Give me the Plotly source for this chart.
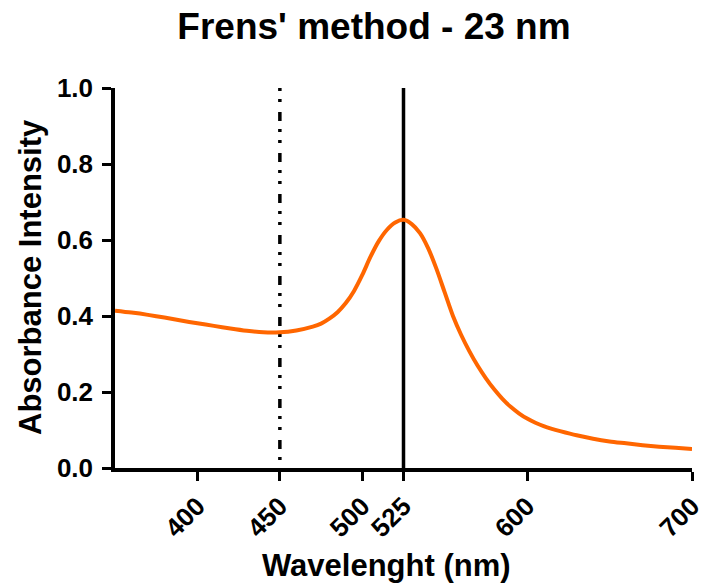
import plotly.graph_objects as go

# ---- data ----
wavelength = [350, 360, 370, 380, 390, 400, 410, 420, 430, 440, 450, 460, 470, 475,
              480, 485, 490, 495, 500, 505, 510, 515, 520, 525, 530, 535, 540, 545,
              550, 555, 560, 565, 570, 575, 580, 585, 590, 595, 600, 605, 610, 615,
              620, 630, 640, 650, 660, 670, 680, 690, 700]
absorbance = [0.414, 0.409, 0.403, 0.396, 0.388, 0.381, 0.374, 0.367, 0.361, 0.357,
              0.357, 0.362, 0.372, 0.380, 0.393, 0.410, 0.434, 0.466, 0.508, 0.556,
              0.597, 0.627, 0.646, 0.653, 0.642, 0.618, 0.578, 0.524, 0.462, 0.400,
              0.350, 0.307, 0.269, 0.236, 0.207, 0.182, 0.161, 0.144, 0.130, 0.119,
              0.110, 0.103, 0.097, 0.086, 0.077, 0.070, 0.065, 0.060, 0.056, 0.053,
              0.050]

x_ticks = [400, 450, 500, 525, 600, 700]
x_tick_labels = ["400", "450", "500", "525", "600", "700"]
y_ticks = [0.0, 0.2, 0.4, 0.6, 0.8, 1.0]
y_tick_labels = ["0.0", "0.2", "0.4", "0.6", "0.8", "1.0"]

min_line = [450]   # dash-dot-dot marker line
peak_line = [525]  # solid marker line

FONT = "Liberation Sans, Arial, sans-serif"

fig = go.Figure()
fig.add_trace(go.Scatter(
    x=wavelength, y=absorbance, mode="lines",
    line=dict(color="#FF6600", width=4, shape="spline", smoothing=0.8),
    showlegend=False, hoverinfo="skip",
))

for xv in min_line:
    fig.add_shape(type="line", xref="x", yref="y", x0=xv, x1=xv, y0=1, y1=0,
                  layer="below",
                  line=dict(color="black", width=3.5, dash="3px,8px,3px,10px,9px,8px"))
for xv in peak_line:
    fig.add_shape(type="line", xref="x", yref="y", x0=xv, x1=xv, y0=1, y1=0,
                  layer="below", line=dict(color="black", width=3.5))

axis_common = dict(
    showline=True, linecolor="black", linewidth=3.5,
    ticks="outside", ticklen=9, tickwidth=3, tickcolor="black",
    showgrid=False, zeroline=False, automargin=False,
    tickfont=dict(family=FONT, size=26, color="black", weight="bold"),
)

fig.update_layout(
    width=701, height=583,
    margin=dict(l=115, r=9, t=88, b=115),
    plot_bgcolor="white", paper_bgcolor="white",
    font=dict(family=FONT, color="black"),
    title=dict(text="Frens' method - 23 nm", x=374 / 701, xanchor="center",
               y=1 - 26 / 583, yanchor="middle", xref="container", yref="container",
               font=dict(family=FONT, size=37, color="black", weight="bold")),
    xaxis=dict(range=[350, 700], tickvals=x_ticks, ticktext=x_tick_labels,
               tickangle=-45, ticklabeloverflow="allow", **axis_common),
    yaxis=dict(range=[0, 1], tickvals=y_ticks, ticktext=y_tick_labels,
               ticklabelstandoff=4, **axis_common),
    annotations=[
        dict(text="Wavelenght (nm)", xref="paper", yref="paper",
             x=(386 - 115) / 577, y=(468 - 565) / 380, xanchor="center", yanchor="middle",
             showarrow=False,
             font=dict(family=FONT, size=31, color="black", weight="bold")),
        dict(text="Absorbance Intensity", xref="paper", yref="paper",
             x=(30 - 115) / 577, y=(468 - 277) / 380, xanchor="center", yanchor="middle",
             textangle=-90, showarrow=False,
             font=dict(family=FONT, size=31, color="black", weight="bold")),
    ],
)

fig.write_html("out.html")
